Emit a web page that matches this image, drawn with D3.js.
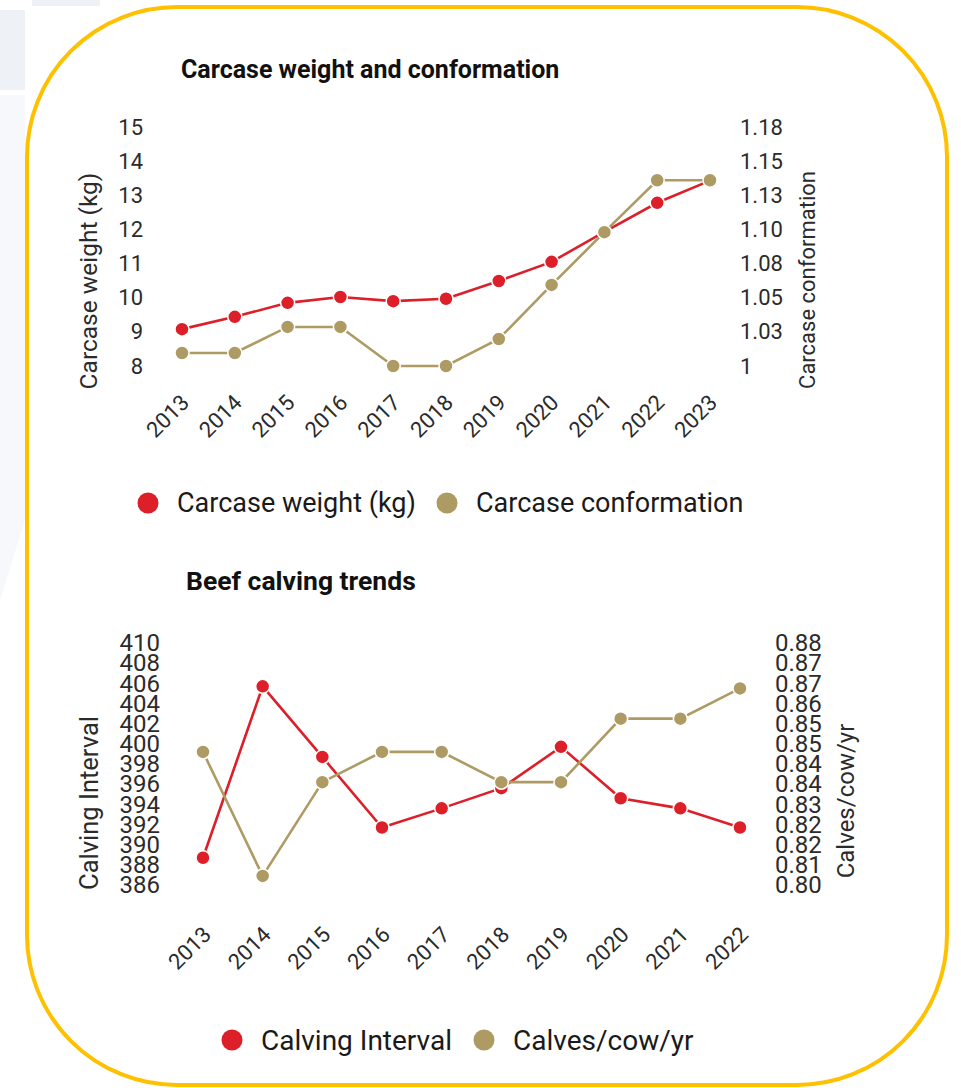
<!DOCTYPE html>
<html>
<head>
<meta charset="utf-8">
<script src="https://cdn.jsdelivr.net/npm/d3@7"></script>
<style>
	body { margin: 0; background: #fff; }
	svg text { font-family: Roboto, "Noto Sans", sans-serif; fill: #2b2b2b; }
</style>
</head>
<body>
<div id="chart"></div>
<script>
(function() {
	"use strict";

	// --- carcase chart data ---
	var carcaseYears = ["2013", "2014", "2015", "2016", "2017", "2018", "2019", "2020", "2021", "2022", "2023"];
	var carcaseWeight = [9.08, 9.44, 9.85, 10.02, 9.9, 9.97, 10.49, 11.05, 11.93, 12.78, 13.43];
	var carcaseConformation = [1.0095, 1.0095, 1.0286, 1.0286, 1.0, 1.0, 1.0198, 1.0594, 1.098, 1.136, 1.136];
	var weightTicks = [8, 9, 10, 11, 12, 13, 14, 15];
	var conformationTickLabels = ["1", "1.03", "1.05", "1.08", "1.10", "1.13", "1.15", "1.18"];
	var conformationDomain = [1, 1.175];

	// --- calving chart data ---
	var calvingYears = ["2013", "2014", "2015", "2016", "2017", "2018", "2019", "2020", "2021", "2022"];
	var calvingInterval = [388.7, 405.7, 398.7, 391.7, 393.6, 395.6, 399.7, 394.6, 393.6, 391.7];
	var calvesPerCow = [0.844, 0.803, 0.834, 0.844, 0.844, 0.834, 0.834, 0.855, 0.855, 0.865];
	var intervalTicks = [386, 388, 390, 392, 394, 396, 398, 400, 402, 404, 406, 408, 410];
	var calvesTickLabels = ["0.80", "0.81", "0.82", "0.82", "0.83", "0.84", "0.84", "0.85", "0.85", "0.86", "0.87", "0.87", "0.88"];
	var calvesDomain = [0.80, 0.88];

	var RED = "#dc1f28";
	var TAN = "#ae9a63";

	var width = 961, height = 1088;
	var svg = d3.select("#chart").append("svg")
		.attr("width", width)
		.attr("height", height);

	// pale background bits on the left
	svg.append("rect").attr("x", 0).attr("y", 10).attr("width", 25).attr("height", 80).style("fill", "#eef1f6");
	svg.append("rect").attr("x", 32).attr("y", 0).attr("width", 68).attr("height", 6).style("fill", "#eef1f6");
	svg.append("path").attr("d", "M0,95 L25,95 L25,520 L0,600 Z").style("fill", "#f7f8fb");

	// yellow rounded frame
	svg.append("rect")
		.attr("x", 27).attr("y", 7)
		.attr("width", 920).attr("height", 1078)
		.attr("rx", 150).attr("ry", 150)
		.style("fill", "#fff")
		.style("stroke", "#ffc000")
		.style("stroke-width", 4);

	function drawChart(opt) {
		var g = svg.append("g");

		var x = d3.scalePoint().domain(opt.years).range(opt.xRange);
		var yL = d3.scaleLinear().domain([opt.leftTicks[0], opt.leftTicks[opt.leftTicks.length - 1]]).range(opt.yRange);
		var yR = d3.scaleLinear().domain(opt.rightDomain).range(opt.yRange);

		g.append("text")
			.attr("x", opt.titleX).attr("y", opt.titleY)
			.style("font-size", opt.titleSize + "px")
			.style("font-weight", "bold")
			.style("fill", "#111")
			.text(opt.title);

		var left = g.append("g")
			.attr("transform", "translate(" + opt.leftAxisX + ",0)")
			.call(d3.axisLeft(yL).tickValues(opt.leftTicks).tickSize(0).tickPadding(0)
				.tickFormat(d3.format("d")));
		var right = g.append("g")
			.attr("transform", "translate(" + opt.rightAxisX + ",0)")
			.call(d3.axisRight(yL).tickValues(opt.leftTicks).tickSize(0).tickPadding(0)
				.tickFormat(function(d, i) { return opt.rightLabels[i]; }));
		[left, right].forEach(function(a) {
			a.select(".domain").remove();
			a.selectAll("text")
				.style("font-family", "Roboto, sans-serif")
				.style("font-size", opt.tickSize + "px")
				.style("fill", "#2b2b2b");
		});

		var bottom = g.append("g")
			.attr("transform", "translate(0," + opt.xAxisY + ")")
			.call(d3.axisBottom(x).tickSize(0).tickPadding(0));
		bottom.select(".domain").remove();
		bottom.selectAll("text")
			.attr("y", 0).attr("dy", 0)
			.attr("transform", "translate(" + opt.xLabelDx + ",0) rotate(-45)")
			.style("text-anchor", "end")
			.style("font-family", "Roboto, sans-serif")
			.style("font-size", opt.xLabelSize + "px")
			.style("fill", "#2b2b2b");

		g.append("text")
			.attr("transform", "translate(" + opt.leftTitleX + "," + opt.leftTitleY + ") rotate(-90)")
			.style("text-anchor", "middle")
			.style("font-size", opt.leftTitleSize + "px")
			.text(opt.leftTitle);
		g.append("text")
			.attr("transform", "translate(" + opt.rightTitleX + "," + opt.rightTitleY + ") rotate(-90)")
			.style("text-anchor", "middle")
			.style("font-size", opt.rightTitleSize + "px")
			.text(opt.rightTitle);

		var series = [
			{ values: opt.leftValues, y: yL, color: RED },
			{ values: opt.rightValues, y: yR, color: TAN }
		];

		series.forEach(function(s) {
			var line = d3.line()
				.x(function(d, i) { return x(opt.years[i]); })
				.y(function(d) { return s.y(d); });
			g.append("path")
				.datum(s.values)
				.attr("d", line)
				.style("fill", "none")
				.style("stroke", s.color)
				.style("stroke-width", 2.6);
			g.selectAll(null)
				.data(s.values)
				.enter()
				.append("circle")
				.attr("cx", function(d, i) { return x(opt.years[i]); })
				.attr("cy", function(d) { return s.y(d); })
				.attr("r", 7)
				.style("fill", s.color)
				.style("stroke", "#fff")
				.style("stroke-width", 1.5);
		});

		// legend
		var lg = g.append("g").attr("transform", "translate(0," + opt.legendY + ")");
		opt.legend.forEach(function(item) {
			lg.append("circle")
				.attr("cx", item.cx).attr("cy", 0).attr("r", 10.5)
				.style("fill", item.color);
			lg.append("text")
				.attr("x", item.cx + 29).attr("y", 0).attr("dy", "0.35em")
				.style("font-size", opt.legendSize + "px")
				.style("fill", "#1a1a1a")
				.text(item.label);
		});
	}

	drawChart({
		title: "Carcase weight and conformation",
		titleX: 181, titleY: 78, titleSize: 25,
		years: carcaseYears,
		xRange: [182, 710],
		yRange: [366, 127],
		leftTicks: weightTicks,
		rightLabels: conformationTickLabels,
		rightDomain: conformationDomain,
		leftValues: carcaseWeight,
		rightValues: carcaseConformation,
		leftAxisX: 143, rightAxisX: 740,
		tickSize: 22,
		xAxisY: 404, xLabelDx: 8, xLabelSize: 22,
		leftTitle: "Carcase weight (kg)", leftTitleX: 97, leftTitleY: 281, leftTitleSize: 24.5,
		rightTitle: "Carcase conformation", rightTitleX: 815, rightTitleY: 280, rightTitleSize: 22,
		legendY: 503, legendSize: 27,
		legend: [
			{ cx: 148, color: RED, label: "Carcase weight (kg)" },
			{ cx: 447, color: TAN, label: "Carcase conformation" }
		]
	});

	drawChart({
		title: "Beef calving trends",
		titleX: 186, titleY: 590, titleSize: 26.5,
		years: calvingYears,
		xRange: [203, 740],
		yRange: [885, 643],
		leftTicks: intervalTicks,
		rightLabels: calvesTickLabels,
		rightDomain: calvesDomain,
		leftValues: calvingInterval,
		rightValues: calvesPerCow,
		leftAxisX: 160, rightAxisX: 775,
		tickSize: 24,
		xAxisY: 936, xLabelDx: 9, xLabelSize: 22,
		leftTitle: "Calving Interval", leftTitleX: 98, leftTitleY: 803, leftTitleSize: 25.5,
		rightTitle: "Calves/cow/yr", rightTitleX: 854, rightTitleY: 801, rightTitleSize: 24,
		legendY: 1040, legendSize: 28,
		legend: [
			{ cx: 232, color: RED, label: "Calving Interval" },
			{ cx: 484, color: TAN, label: "Calves/cow/yr" }
		]
	});
})();
</script>
</body>
</html>
